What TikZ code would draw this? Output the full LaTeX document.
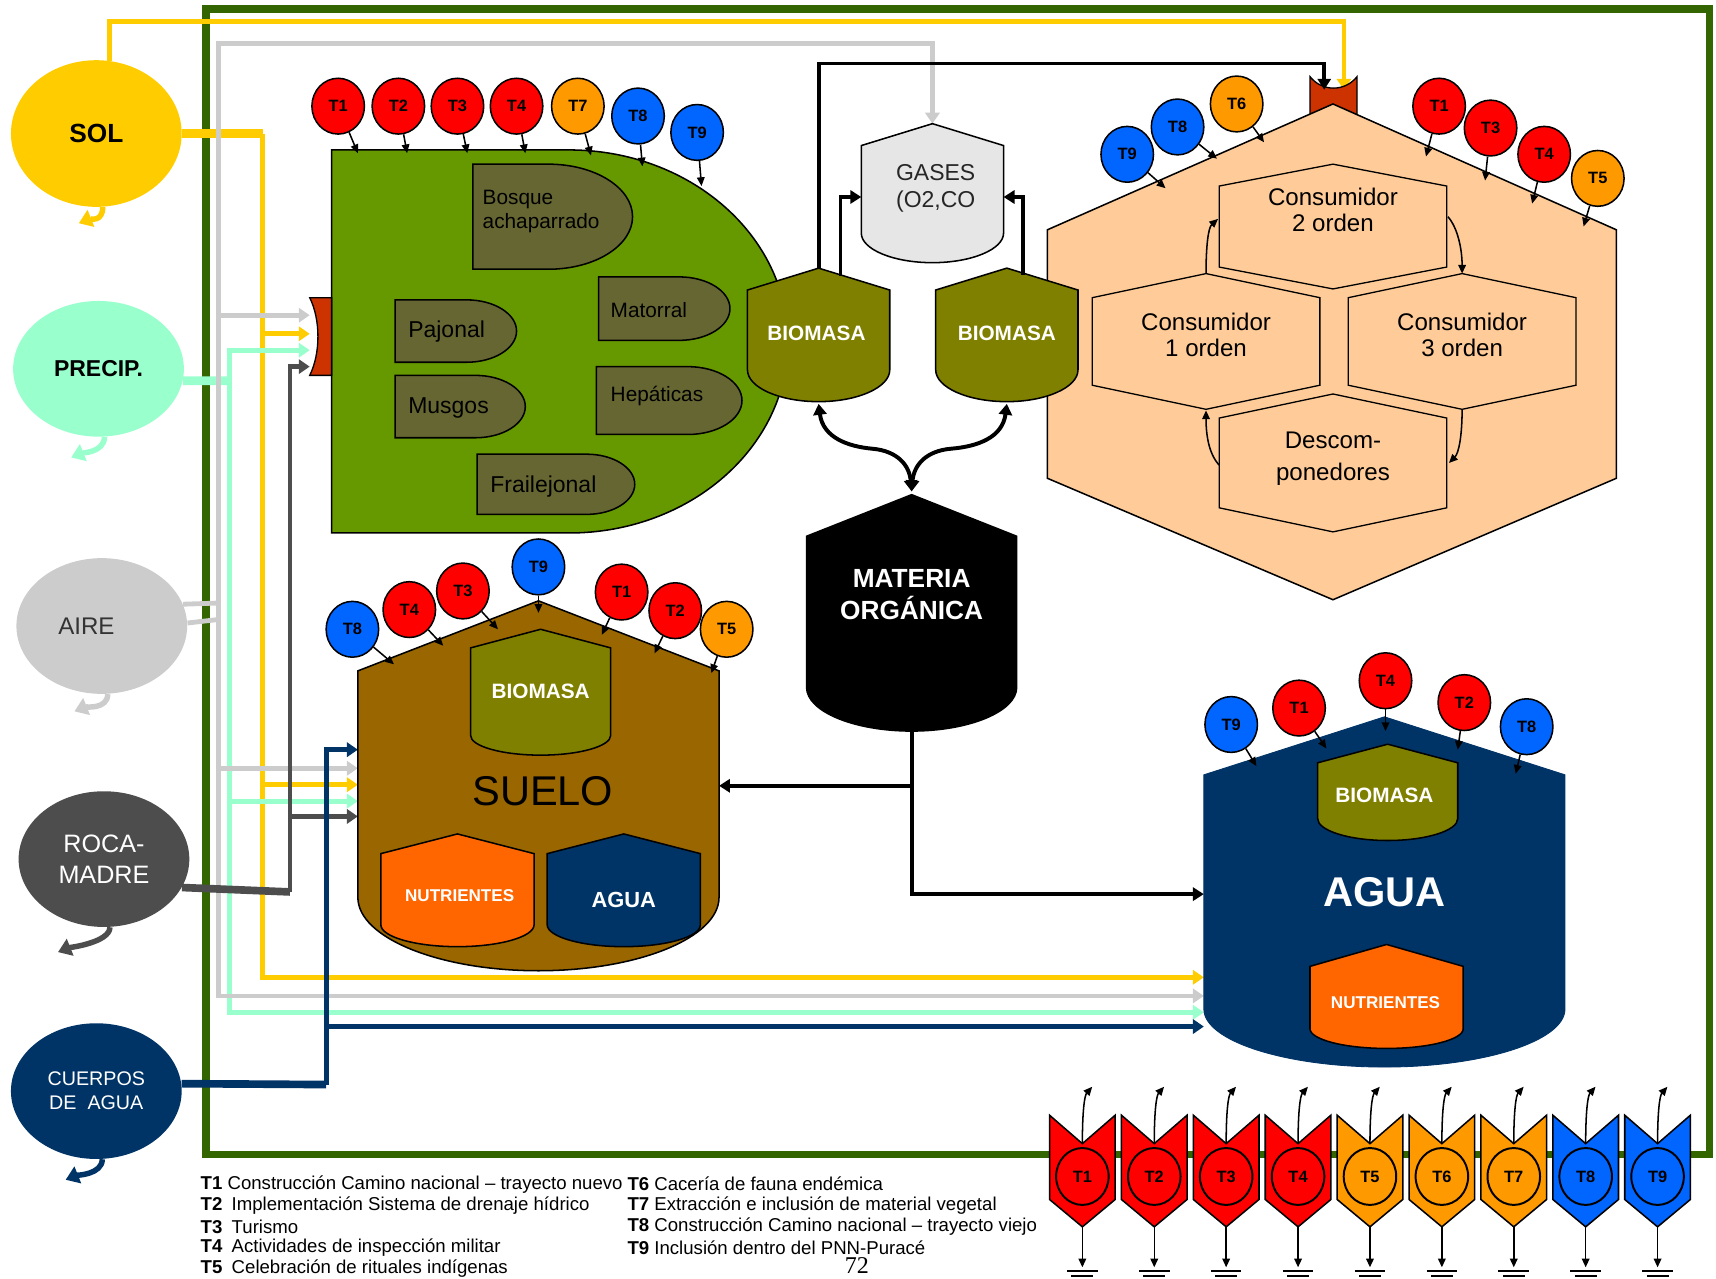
\documentclass[tikz,border=0pt]{standalone}
\usepackage{fontspec}
\setmainfont{Liberation Sans}
\newfontfamily\paginafont{Liberation Serif}
\usepackage{tikz}
\usetikzlibrary{shapes.geometric, positioning, calc, arrows.meta}

\newcommand{\tam}[1]{\fontsize{#1}{#1}\selectfont}

% tanque: estilo, cx, y vértice, semiancho, y hombro, y lado, y fondo
\newcommand{\tanque}[7]{%
  \draw[#1] (#2,#3) -- ({#2+#4},#5) -- ({#2+#4},#6)
    .. controls ({#2+#4},{#6+0.55*(#7-#6)}) and ({#2+0.55*#4},#7) .. (#2,#7)
    .. controls ({#2-0.55*#4},#7) and ({#2-#4},{#6+0.55*(#7-#6)}) .. ({#2-#4},#6)
    -- ({#2-#4},#5) -- cycle;}

% celda: cx, cy, semiancho, semialto, hombro
\newcommand{\celda}[5]{%
  \draw[hexin] (#1,{#2-#4}) -- ({#1+#3},{#2-#4+#5}) -- ({#1+#3},{#2+#4-#5})
    -- (#1,{#2+#4}) -- ({#1-#3},{#2+#4-#5}) -- ({#1-#3},{#2-#4+#5}) -- cycle;}

% vegbox: x1, y1, x2, y2
\newcommand{\vegbox}[4]{%
  \pgfmathsetmacro{\vrx}{0.8*(#4-#2)}%
  \pgfmathsetmacro{\vry}{0.5*(#4-#2)}%
  \pgfmathsetmacro{\vxa}{#3-\vrx}%
  \pgfmathsetmacro{\vym}{0.5*(#2+#4)}%
  \draw[vegin] (#1,#2) -- (\vxa,#2)
    .. controls ({\vxa+0.552*\vrx},#2) and (#3,{\vym-0.552*\vry}) .. (#3,\vym)
    .. controls (#3,{\vym+0.552*\vry}) and ({\vxa+0.552*\vrx},#4) .. (\vxa,#4)
    -- (#1,#4) -- cycle;}

\begin{document}
\begin{tikzpicture}[x=0.5pt, y=-0.5pt,
    flujo/.style={line width=2.2pt, -{Triangle[length=5pt,width=6.5pt]}},
    talon/.style={line width=4pt},
    negra/.style={line width=1.8pt, -{Triangle[length=5pt,width=6pt]}},
    doble/.style={line width=1.8pt, {Triangle[length=5pt,width=6pt]}-{Triangle[length=5pt,width=6pt]}},
    fina/.style={line width=0.7pt, -{Triangle[length=4pt,width=3.5pt]}},
    cola/.style={line width=2.5pt, draw=#1, -{Triangle[length=6pt,width=8pt]}},
    fuente/.style={ellipse, inner sep=0pt, align=center, minimum width=78pt, minimum height=62pt},
    tbub/.style={ellipse, draw=black, line width=0.7pt, minimum width=24pt, minimum height=25.5pt,
                 inner sep=0pt, font=\bfseries\tam{7.5}},
    vegin/.style={draw=black, line width=0.7pt, fill=vegoscuro},
    vegtxt/.style={anchor=west, text=black, align=left},
    hexin/.style={draw=black, line width=0.6pt, fill=durazno},
    tanq/.style={draw=black, line width=0.7pt},
    blanco/.style={text=white, font=\bfseries\tam{9.5}}]

    % Colores
    \definecolor{solc}{RGB}{255,204,0}
    \definecolor{precc}{RGB}{153,255,204}
    \definecolor{airec}{RGB}{204,204,204}
    \definecolor{rocac}{RGB}{77,77,77}
    \definecolor{aguac}{RGB}{0,51,102}
    \definecolor{marco}{RGB}{51,102,0}
    \definecolor{vegc}{RGB}{102,153,0}
    \definecolor{vegoscuro}{RGB}{102,102,51}
    \definecolor{biomc}{RGB}{128,128,0}
    \definecolor{durazno}{RGB}{255,204,153}
    \definecolor{sueloc}{RGB}{153,102,0}
    \definecolor{nutrc}{RGB}{255,102,0}
    \definecolor{gasc}{RGB}{230,230,230}
    \definecolor{tabc}{RGB}{204,51,0}
    \definecolor{tred}{RGB}{255,0,0}
    \definecolor{torg}{RGB}{255,153,0}
    \definecolor{tblue}{RGB}{0,102,255}

    \useasboundingbox (0,0) rectangle (1568,1168);

    % 1. Marco verde
    \draw[line width=3.5pt, marco] (188,8) rectangle (1562,1055);

    % 2. Fuentes externas
    \node[fuente, fill=solc, minimum height=67pt, font=\bfseries\tam{12}] (sol) at (88,122) {SOL};
    \node[fuente, fill=precc, font=\bfseries\tam{10.5}] (prec) at (90,337) {PRECIP.};
    \node[fuente, fill=airec, text=black!80, font=\tam{11}] (aire) at (93,572) {AIRE\hspace*{14pt}};
    \node[fuente, fill=rocac, text=white, font=\fontsize{11.5}{14.5}\selectfont] (roca) at (95,785) {ROCA-\\MADRE};
    \node[fuente, fill=aguac, text=white, font=\fontsize{9}{11}\selectfont] (cuer) at (88,997) {CUERPOS\\DE\ \ AGUA};

    \coordinate (solcola) at (72,204);
    \coordinate (preccola) at (65,418);
    \coordinate (airecola) at (68,650);
    \coordinate (rocacola) at (53,870);
    \coordinate (cuercola) at (60,1078);
    \draw[cola=solc] (sol.-85) .. controls +(0,14) and +(10,-4) .. (solcola);
    \draw[cola=precc] (prec.-85) .. controls +(0,14) and +(10,-4) .. (preccola);
    \draw[cola=airec] (aire.-85) .. controls +(0,14) and +(10,-4) .. (airecola);
    \draw[cola=rocac] (roca.-85) .. controls +(0,14) and +(10,-4) .. (rocacola);
    \draw[cola=aguac] (cuer.-85) .. controls +(0,14) and +(10,-4) .. (cuercola);

    % puntos de llegada
    \coordinate (vegG) at (283,288);
    \coordinate (vegY) at (283,305);
    \coordinate (vegM) at (283,320);
    \coordinate (vegD) at (283,335);
    \coordinate (sueloN) at (327,685);
    \coordinate (sueloG) at (327,702);
    \coordinate (sueloY) at (327,717);
    \coordinate (sueloM) at (327,732);
    \coordinate (sueloD) at (327,746);
    \coordinate (aguaY) at (1100,893);
    \coordinate (aguaG) at (1100,910);
    \coordinate (aguaM) at (1100,925);
    \coordinate (aguaN) at (1100,938);
    \coordinate (gasapex) at (852,113);
    \coordinate (ctab1) at (1210,82);
    \coordinate (ctab2) at (1228,82);
    \coordinate (gasL) at (787,180);
    \coordinate (gasR) at (917,180);
    \coordinate (bio1apex) at (748,246);
    \coordinate (bio1bot) at (748,369);
    \coordinate (bio2bot) at (920,369);
    \coordinate (matapex) at (833,449);
    \coordinate (matbot) at (833,668);
    \coordinate (sueloR) at (657,718);
    \coordinate (aguaR) at (1100,817);

    % 3. Flujos de color
    % SOL
    \draw[flujo, solc] (sol.80) -- ++(0,-36) -| (ctab2);
    \draw[talon, solc] (sol.east) -- (240,122);
    \draw[flujo, solc] (240,122) |- (aguaY);
    \draw[flujo, solc] (240,305) -- (vegY);
    \draw[flujo, solc] (240,717) -- (sueloY);
    % PRECIP.
    \draw[talon, precc] (prec.-8) -- (210,348);
    \draw[flujo, precc] (210,348) |- (vegM);
    \draw[flujo, precc] (210,348) |- (aguaM);
    \draw[flujo, precc] (210,732) -- (sueloM);
    % AIRE
    \draw[airec, line width=2.2pt] (aire.15) -- (200,551);
    \draw[airec, line width=2.2pt] (aire.2) -- (200,566);
    \draw[flujo, airec] (200,566) |- (852,40) -- (gasapex);
    \draw[flujo, airec] (200,551) |- (aguaG);
    \draw[flujo, airec] (200,288) -- (vegG);
    \draw[flujo, airec] (200,702) -- (sueloG);
    % ROCA-MADRE
    \draw[talon, rocac, line width=3.5pt] (roca.-20) -- (265,815);
    \draw[flujo, rocac] (265,815) |- (vegD);
    \draw[flujo, rocac] (265,746) -- (sueloD);
    % CUERPOS DE AGUA
    \draw[talon, aguac, line width=3.5pt] (cuer.5) -- (298,991);
    \draw[flujo, aguac] (298,991) |- (sueloN);
    \draw[flujo, aguac] (298,938) -- (aguaN);

    % 4. Vegetación
    \draw[fill=vegc, line width=0.7pt] (303,137) -- (520,137) .. controls (630,137) and (720,215) .. (720,312)
        .. controls (720,409) and (630,487) .. (520,487) -- (303,487) -- cycle;
    \draw[fill=tabc, line width=0.6pt] (303,272) -- (283,272) .. controls (293,292) and (293,323) .. (283,343) -- (303,343) -- cycle;
    \vegbox{432}{150}{578}{246}
    \vegbox{547}{253}{667}{311}
    \vegbox{361}{274}{472}{331}
    \vegbox{545}{335}{678}{397}
    \vegbox{361}{343}{480}{400}
    \vegbox{436}{415}{580}{470}
    \node[vegtxt, font=\fontsize{9.5}{11}\selectfont] (bosque) at (434,193) {Bosque\\achaparrado};
    \node[vegtxt, font=\tam{9.5}] (matorral) at (551,283) {Matorral};
    \node[vegtxt, font=\tam{10.5}] (pajonal) at (366,303) {Pajonal};
    \node[vegtxt, font=\tam{9.5}] (hepaticas) at (551,362) {Hepáticas};
    \node[vegtxt, font=\tam{10.5}] (musgos) at (366,373) {Musgos};
    \node[vegtxt, font=\tam{10.5}] (frailejonal) at (441,445) {Frailejonal};

    % 5. Consumidores
    \draw[fill=tabc, line width=0.6pt] (1197,70) .. controls (1208,84) and (1229,84) .. (1240,70) -- (1240,112) -- (1197,112) -- cycle;
    \draw[fill=durazno, line width=0.7pt] (1218,95) -- (1477,210) -- (1477,437) -- (1218,548) -- (957,437) -- (957,210) -- cycle;
    \celda{1218}{207}{104}{57}{20}
    \celda{1102}{312}{104}{62}{22}
    \celda{1336}{312}{104}{62}{22}
    \celda{1218}{423}{104}{63}{22}
    \node[align=center, font=\fontsize{11}{12}\selectfont] (cons2) at (1218,192) {Consumidor\\2 orden};
    \node[align=center, font=\fontsize{11}{12}\selectfont] (cons1) at (1102,306) {Consumidor\\1 orden};
    \node[align=center, font=\fontsize{11}{12}\selectfont] (cons3) at (1336,306) {Consumidor\\3 orden};
    \node[align=center, font=\fontsize{11}{14.5}\selectfont] (descom) at (1218,419) {Descom-\\ponedores};
    \draw[fina] (1102,250) .. controls (1102,225) and (1104,208) .. (1113,200);
    \draw[fina] (1323,198) .. controls (1332,208) and (1336,228) .. (1336,250);
    \draw[fina] (1336,374) .. controls (1336,398) and (1333,414) .. (1324,423);
    \draw[fina] (1114,425) .. controls (1104,414) and (1102,396) .. (1102,375);

    % 6. Gases, biomasa y materia orgánica
    \tanque{tanq, fill=gasc}{852}{113}{65}{133}{213}{240}
    \node[align=center, text=black!85, font=\fontsize{10.5}{12}\selectfont] (gases) at (855,172) {GASES\\(O2,CO};
    \tanque{tanq, fill=biomc}{748}{245}{65}{265}{338}{367}
    \node[blanco] (bio1) at (746,305) {BIOMASA};
    \tanque{tanq, fill=biomc}{920}{245}{65}{265}{338}{367}
    \node[blanco] (bio2) at (920,305) {BIOMASA};
    \tanque{tanq, fill=black}{833}{452}{96}{490}{628}{668}
    \node[align=center, text=white, font=\bfseries\fontsize{12}{14.5}\selectfont] (materia) at (833,543) {MATERIA\\ORGÁNICA};

    % 7. Suelo
    \tanque{tanq, fill=sueloc}{492}{549}{165}{613}{820}{887}
    \tanque{tanq, fill=biomc}{494}{575}{64}{592}{672}{690}
    \tanque{tanq, fill=nutrc}{418}{762}{70}{780}{845}{865}
    \tanque{tanq, fill=aguac}{570}{762}{70}{780}{845}{865}
    \node[blanco] (sbio) at (494,632) {BIOMASA};
    \node[font=\tam{19}] (suelo) at (496,723) {SUELO};
    \node[text=white, font=\bfseries\tam{7.8}] (snut) at (420,818) {NUTRIENTES};
    \node[text=white, font=\bfseries\tam{10}] (sagua) at (570,822) {AGUA};

    % 8. Agua
    \tanque{fill=aguac, draw=aguac}{1265}{655}{165}{708}{922}{975}
    \tanque{tanq, fill=biomc}{1268}{680}{64}{697}{748}{768}
    \tanque{tanq, fill=nutrc}{1267}{863}{70}{883}{940}{958}
    \node[blanco] (abio) at (1265,727) {BIOMASA};
    \node[text=white, font=\bfseries\tam{19}] (agua) at (1265,815) {AGUA};
    \node[text=white, font=\bfseries\tam{7.8}] (anut) at (1266,916) {NUTRIENTES};

    % 9. Tensionantes sobre cada componente
    \foreach \lbl/\col/\x/\y/\ax/\ay in {T1/tred/309/97/327/140, T2/tred/364/97/372/140, T3/tred/418/97/427/140,
        T4/tred/472/97/480/140, T7/torg/528/97/540/142, T8/tblue/583/106/587/152, T9/tblue/637/121/641/170} {
        \node[tbub, fill=\col] (v\lbl) at (\x,\y) {\lbl};
        \draw[fina] (v\lbl) -- (\ax,\ay);
    }
    \foreach \lbl/\col/\x/\y/\ax/\ay in {T9/tblue/1030/141/1065/172, T8/tblue/1076/116/1112/145, T6/torg/1130/95/1155/130,
        T1/tred/1315/97/1303/143, T3/tred/1362/117/1357/165, T4/tred/1411/141/1400/186, T5/torg/1460/163/1447/207} {
        \node[tbub, fill=\col] (c\lbl) at (\x,\y) {\lbl};
        \draw[fina] (c\lbl) -- (\ax,\ay);
    }
    \foreach \lbl/\col/\x/\y/\ax/\ay in {T8/tblue/322/575/360/607, T4/tred/374/557/405/590, T3/tred/423/540/455/575,
        T9/tblue/492/518/492/560, T1/tred/568/541/550/580, T2/tred/617/558/598/597, T5/torg/664/575/650/615} {
        \node[tbub, fill=\col] (s\lbl) at (\x,\y) {\lbl};
        \draw[fina] (s\lbl) -- (\ax,\ay);
    }
    \foreach \lbl/\col/\x/\y/\ax/\ay in {T9/tblue/1125/662/1148/700, T1/tred/1187/647/1212/684, T4/tred/1266/622/1266/668,
        T2/tred/1338/642/1332/685, T8/tblue/1395/664/1385/707} {
        \node[tbub, fill=\col] (a\lbl) at (\x,\y) {\lbl};
        \draw[fina] (a\lbl) -- (\ax,\ay);
    }

    % 10. Flujos negros
    \draw[negra] (bio1apex) -- (748,58) -| (ctab1);
    \draw[negra] (768,252) |- (gasL);
    \draw[negra] (935,251) |- (gasR);
    \draw[doble] (bio1bot) .. controls (752,400) and (775,408) .. (797,410) .. controls (820,412) and (831,425) .. (matapex);
    \draw[doble] (bio2bot) .. controls (916,400) and (893,408) .. (869,410) .. controls (846,412) and (835,425) .. (matapex);
    \draw[negra] (matbot) |- (aguaR);
    \draw[negra] (833,718) -- (sueloR);

    % 11. Tensionantes abajo
    \foreach \lbl/\col [count=\i from 0] in {T1/tred, T2/tred, T3/tred, T4/tred, T5/torg, T6/torg, T7/torg, T8/tblue, T9/tblue} {
        \pgfmathsetmacro{\cx}{989+65.7*\i}
        \draw[fill=\col, line width=0.7pt] ({\cx-30},1019) -- (\cx,1045) -- ({\cx+30},1019) -- ({\cx+30},1096)
            -- (\cx,1121) -- ({\cx-30},1096) -- cycle;
        \node[ellipse, draw, line width=0.9pt, minimum width=24pt, minimum height=26pt, inner sep=0pt,
              font=\bfseries\tam{7.5}] (imp\lbl) at (\cx,1075) {\lbl};
        \coordinate (arr\lbl) at ({\cx+9},993);
        \coordinate (tierra\lbl) at (\cx,1158);
        \draw[fina] (\cx,1045) .. controls (\cx,1015) and ({\cx+2},1001) .. (arr\lbl);
        \draw[fina] (\cx,1121) -- (tierra\lbl);
        \draw[line width=0.9pt] ({\cx-14},1161) -- ({\cx+14},1161) ({\cx-10},1166) -- ({\cx+10},1166);
    }

    % 12. Leyenda
    \foreach \lbl/\sep/\txt [count=\i from 0] in {T1/\ /Construcción Camino nacional – trayecto nuevo,
        T2/\enspace/Implementación Sistema de drenaje hídrico, T3/\enspace/Turismo,
        T4/\enspace/Actividades de inspección militar, T5/\enspace/Celebración de rituales indígenas} {
        \node[anchor=west, inner sep=0pt, font=\tam{8.5}] (ley\lbl) at (183,{1082+19.3*\i}) {\textbf{\lbl}\sep\txt};
    }
    \foreach \lbl/\txt [count=\i from 0] in {T6/Cacería de fauna endémica, T7/Extracción e inclusión de material vegetal,
        T8/Construcción Camino nacional – trayecto viejo, T9/Inclusión dentro del PNN-Puracé} {
        \node[anchor=west, inner sep=0pt, font=\tam{8.5}] (ley\lbl) at (573,{1082+19.3*\i}) {\textbf{\lbl}\ \txt};
    }
    \node[font=\paginafont\tam{11}, inner sep=0pt, anchor=base] (pagina) at (783,1164) {72};

\end{tikzpicture}
\end{document}
